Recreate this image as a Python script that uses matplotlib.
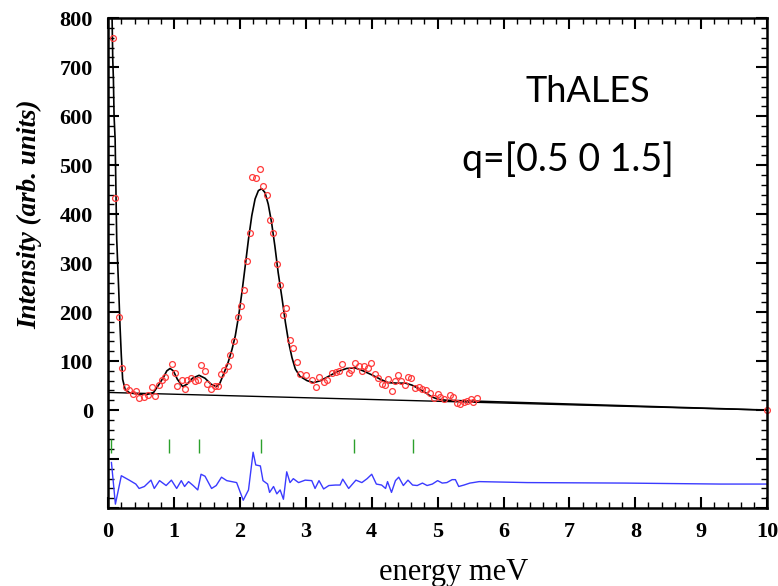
import numpy as np
import matplotlib
matplotlib.use("Agg")
import matplotlib.pyplot as plt
from matplotlib.ticker import MultipleLocator

# measured points (energy meV, intensity)
data_x = [0.07, 0.106, 0.17, 0.21, 0.27, 0.32, 0.37, 0.42, 0.47, 0.55, 0.61, 0.66,
          0.71, 0.77, 0.81, 0.86, 0.97, 1.01, 1.05, 1.12, 1.17, 1.20, 1.26, 1.32,
          1.37, 1.41, 1.47, 1.50, 1.56, 1.62, 1.66, 1.71, 1.76, 1.82, 1.85, 1.91,
          1.97, 2.01, 2.06, 2.10, 2.16, 2.19, 2.25, 2.31, 2.35, 2.41, 2.45, 2.50,
          2.56, 2.61, 2.66, 2.70, 2.76, 2.80, 2.86, 2.91, 3.00, 3.09, 3.16, 3.20,
          3.27, 3.32, 3.39, 3.46, 3.51, 3.55, 3.65, 3.68, 3.74, 3.80, 3.85, 3.89,
          3.95, 3.99, 4.05, 4.09, 4.15, 4.20, 4.25, 4.31, 4.35, 4.40, 4.45, 4.51,
          4.55, 4.59, 4.66, 4.72, 4.77, 4.83, 4.88, 4.94, 5.00, 5.04, 5.10, 5.19,
          5.24, 5.29, 5.34, 5.40, 5.45, 5.50, 5.54, 5.60, 10.0]
data_y = [759, 433, 189, 86, 48, 41, 33, 38, 24, 27, 31, 48,
          29, 52, 62, 67, 95, 75, 49, 61, 43, 62, 65, 59,
          61, 92, 79, 54, 43, 50, 50, 73, 82, 90, 112, 142,
          190, 212, 246, 305, 361, 475, 473, 492, 458, 439, 389, 362,
          299, 256, 194, 208, 143, 127, 99, 74, 71, 62, 48, 68,
          58, 61, 75, 77, 79, 95, 75, 81, 96, 91, 80, 89,
          86, 96, 73, 65, 54, 51, 63, 38, 60, 72, 60, 51,
          67, 65, 46, 48, 44, 41, 34, 24, 32, 26, 22, 31,
          27, 14, 12, 16, 19, 22, 17, 24, 0]

# fitted model curve
fit_x = [0.06, 0.07, 0.08, 0.09, 0.106, 0.13, 0.16, 0.18, 0.20, 0.22, 0.26, 0.33,
         0.44, 0.59, 0.69, 0.76, 0.84, 0.89, 0.94, 0.99, 1.05, 1.13, 1.20, 1.28,
         1.38, 1.47, 1.56, 1.64, 1.69, 1.75, 1.82, 1.88, 1.93, 1.98, 2.03, 2.08,
         2.13, 2.18, 2.23, 2.28, 2.33, 2.38, 2.43, 2.48, 2.53, 2.58, 2.64, 2.69,
         2.74, 2.79, 2.84, 2.91, 3.02, 3.12, 3.22, 3.32, 3.47, 3.62, 3.75, 3.87,
         4.00, 4.13, 4.25, 4.38, 4.51, 4.61, 4.71, 4.81, 4.91, 5.01, 5.14, 10.0]
fit_y = [800, 716, 675, 600, 553, 349, 247, 172, 111, 63, 41, 35,
         33, 32, 36, 50, 67, 80, 85, 80, 63, 48, 53, 65,
         71, 65, 53, 48, 53, 73, 97, 124, 152, 192, 240, 294,
         349, 397, 431, 448, 452, 444, 420, 383, 335, 281, 227, 179,
         138, 107, 84, 69, 60, 56, 60, 67, 78, 85, 86, 80,
         72, 63, 56, 55, 55, 51, 44, 36, 27, 22, 20, 0]

# sloping background
bg_x = [0.0, 10.0]
bg_y = [36, 0]

# peak positions (green markers)
peak_pos = [0.04, 0.93, 1.38, 2.32, 3.73, 4.63]

# residual trace (offset below zero)
res_x = [0.05, 0.11, 0.20, 0.32, 0.42, 0.47, 0.55, 0.65, 0.70, 0.78, 0.88, 0.96,
         1.04, 1.11, 1.16, 1.22, 1.29, 1.36, 1.41, 1.47, 1.57, 1.64, 1.72, 1.80,
         1.95, 2.05, 2.13, 2.20, 2.24, 2.31, 2.35, 2.42, 2.45, 2.51, 2.56, 2.61,
         2.66, 2.71, 2.76, 2.81, 2.89, 2.99, 3.09, 3.14, 3.20, 3.27, 3.35, 3.45,
         3.52, 3.56, 3.65, 3.76, 3.85, 3.93, 4.00, 4.07, 4.15, 4.21, 4.24, 4.30,
         4.36, 4.41, 4.48, 4.55, 4.62, 4.69, 4.77, 4.84, 4.92, 5.00, 5.07, 5.14,
         5.22, 5.27, 5.32, 5.40, 5.49, 5.54, 5.63, 6.36, 7.84, 9.29, 10.0]
res_y = [-107, -192, -134, -143, -151, -160, -156, -143, -160, -144, -154, -143,
         -160, -144, -156, -146, -154, -163, -131, -135, -160, -154, -137, -144,
         -148, -184, -163, -86, -112, -114, -144, -151, -168, -156, -171, -163,
         -182, -126, -148, -140, -148, -143, -144, -160, -144, -161, -154, -153,
         -153, -141, -160, -143, -148, -140, -131, -151, -153, -160, -146, -168,
         -144, -137, -154, -143, -153, -154, -149, -154, -151, -144, -149, -148,
         -142, -142, -156, -153, -149, -148, -146, -148, -149, -151, -151]

fig = plt.figure(figsize=(7.78, 5.86), dpi=100)
ax = fig.add_axes([0.139, 0.133, 0.847, 0.836])

ax.plot(bg_x, bg_y, color='black', lw=1.0)
ax.plot(fit_x, fit_y, color='black', lw=1.2)
ax.plot(data_x, data_y, 'o', ms=4.2, mfc='none', mec='#ff3b3b', mew=0.9,
        clip_on=False)
ax.vlines(peak_pos, -88, -60, color='#2ca02c', lw=1.0)
ax.plot(res_x, res_y, color='#3b3bff', lw=1.0)

ax.set_xlim(0, 10)
ax.set_ylim(-200, 800)
ax.xaxis.set_major_locator(MultipleLocator(1))
ax.xaxis.set_minor_locator(MultipleLocator(0.2))
ax.yaxis.set_major_locator(MultipleLocator(100))
ax.yaxis.set_minor_locator(MultipleLocator(20))
ax.yaxis.set_major_formatter(plt.FuncFormatter(
    lambda v, p: '%d' % v if v >= 0 else ''))

ax.tick_params(which='both', direction='in', top=True, right=True, width=1.0)
ax.tick_params(which='major', length=8, width=1.5)
ax.tick_params(which='minor', length=4)
ax.tick_params(axis='x', pad=10)
ax.tick_params(axis='y', pad=11)
for lab in ax.get_xticklabels() + ax.get_yticklabels():
    lab.set_fontfamily('Liberation Serif')
    lab.set_fontweight('bold')
    lab.set_fontsize(16)
for s in ax.spines.values():
    s.set_linewidth(1.8)

ax.set_ylabel('Intensity (arb. units)', family='Liberation Serif',
              weight='bold', style='italic', fontsize=19.5)
ax.yaxis.set_label_coords(-0.1, 0.6)
ax.set_xlabel('energy meV', family='Liberation Serif', fontsize=22)
ax.xaxis.set_label_coords(0.525, -0.102)

ax.text(7.28, 651, 'ThALES', family='Lato', fontsize=26, ha='center', va='center')
ax.text(6.97, 512, 'q=[0.5 0 1.5]', family='Lato', fontsize=27, ha='center',
        va='center')

fig.savefig('out.png', dpi=100)
